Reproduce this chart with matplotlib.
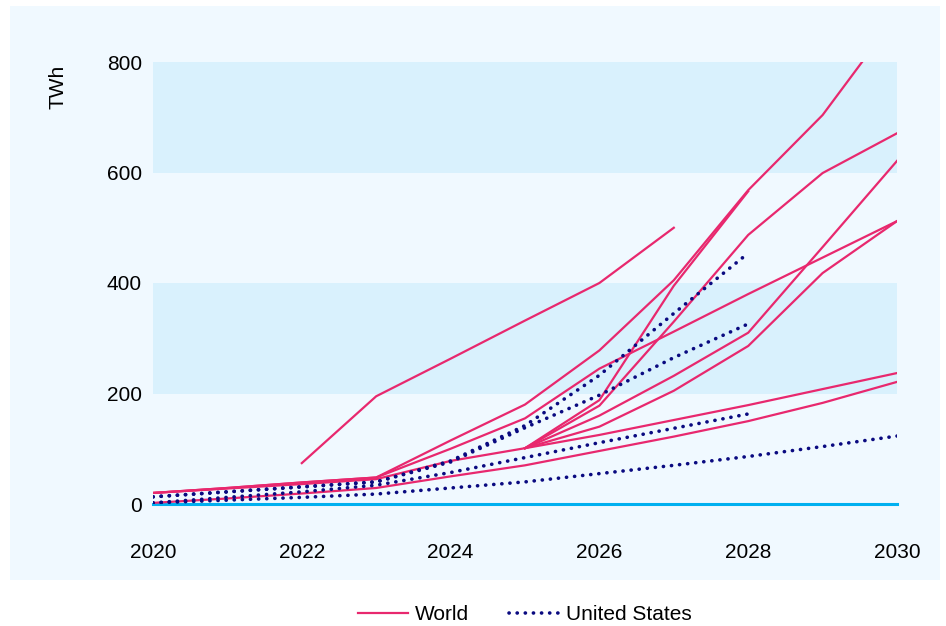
#!/usr/bin/env python3
"""Electricity demand projections (TWh), World vs United States, 2020-2030."""

import numpy as np
import matplotlib
matplotlib.use("Agg")
import matplotlib.pyplot as plt
from matplotlib.patches import Rectangle

nan = np.nan

YEARS = list(range(2020, 2031))

# World projections (one list per study), NaN where a study has no value
WORLD_SERIES = [
    [nan, nan, 74, 195, 263, 332, 400, 500, nan, nan, nan],
    [20, 29, 39, 48, 115, 180, 278, 405, 568, 704, 885],
    [20, 28, 36, 45, 78, 101, 188, 395, 566, nan, nan],
    [nan, nan, nan, nan, nan, 101, 178, 330, 487, 599, 671],
    [20, 29, 39, 48, 100, 155, 245, 312, 380, 446, 512],
    [nan, nan, nan, nan, nan, 101, 160, 232, 310, 465, 621],
    [nan, nan, nan, nan, nan, 101, 140, 205, 286, 418, 512],
    [nan, nan, nan, nan, nan, 101, 125, 152, 179, 208, 237],
    [2, 10, 19, 29, 50, 70, 96, 122, 150, 183, 221],
]

# United States projections
US_SERIES = [
    [13, 22, 31, 40, 78, 142, 233, 345, 454, nan, nan],
    [13, 22, 31, 40, 76, 138, 197, 265, 326, nan, nan],
    [2, 12, 22, 34, 57, 84, 111, 137, 163, nan, nan],
    [2, 7, 12, 18, 29, 40, 55, 70, 86, 104, 123],
]

X_TICKS = [2020, 2022, 2024, 2026, 2028, 2030]
Y_TICKS = [0, 200, 400, 600, 800]
BANDS = [(200, 400), (600, 800)]

WORLD_COLOR = "#e8286e"
US_COLOR = "#0a0a80"
PANEL_COLOR = "#f0f9ff"
BAND_COLOR = "#d9f1fd"
ZERO_COLOR = "#00b0f0"

plt.rcParams["font.family"] = ["Liberation Sans", "DejaVu Sans"]


def main():
    W, H = 946, 626
    fig = plt.figure(figsize=(W / 100, H / 100), dpi=100)
    fig.patch.set_facecolor("white")

    # light blue panel behind the chart
    fig.patches.append(Rectangle((10 / W, 1 - 580 / H), 930 / W, 574 / H,
                                 transform=fig.transFigure, facecolor=PANEL_COLOR,
                                 edgecolor="none", zorder=-1))

    left, right, top, bottom = 153, 897, 62, 504
    ax = fig.add_axes([left / W, 1 - bottom / H, (right - left) / W, (bottom - top) / H])
    ax.set_facecolor("none")
    ax.set_zorder(1)

    for lo, hi in BANDS:
        ax.axhspan(lo, hi, color=BAND_COLOR, lw=0, zorder=0)

    x = np.array(YEARS)
    for i, s in enumerate(WORLD_SERIES):
        ax.plot(x, np.array(s, dtype=float), color=WORLD_COLOR, lw=1.6, zorder=2,
                label="World" if i == 0 else None)
    for i, s in enumerate(US_SERIES):
        ax.plot(x, np.array(s, dtype=float), color=US_COLOR, lw=2.6,
                linestyle=(0, (0.05, 2.2)), dash_capstyle="round", zorder=3,
                label="United States" if i == 0 else None)

    ax.axhline(0, color=ZERO_COLOR, lw=2.2, zorder=1, clip_on=False)

    ax.set_xlim(2020, 2030)
    ax.set_ylim(0, 800)
    ax.set_xticks(X_TICKS)
    ax.set_yticks(Y_TICKS)
    ax.tick_params(axis="both", length=0, labelsize=15)
    ax.tick_params(axis="x", pad=28)
    ax.tick_params(axis="y", pad=8)
    for sp in ax.spines.values():
        sp.set_visible(False)

    fig.text(58 / W, 1 - 87 / H, "TWh", rotation=90, ha="center", va="center", fontsize=15)

    handles, labels = ax.get_legend_handles_labels()
    fig.legend(handles, labels, loc="center", bbox_to_anchor=(525 / W, 1 - 615 / H), ncol=2,
               frameon=False, fontsize=15, handlelength=2.4, handletextpad=0.35,
               columnspacing=1.9)

    fig.savefig("out.png", dpi=100)
    plt.close(fig)


if __name__ == "__main__":
    main()
